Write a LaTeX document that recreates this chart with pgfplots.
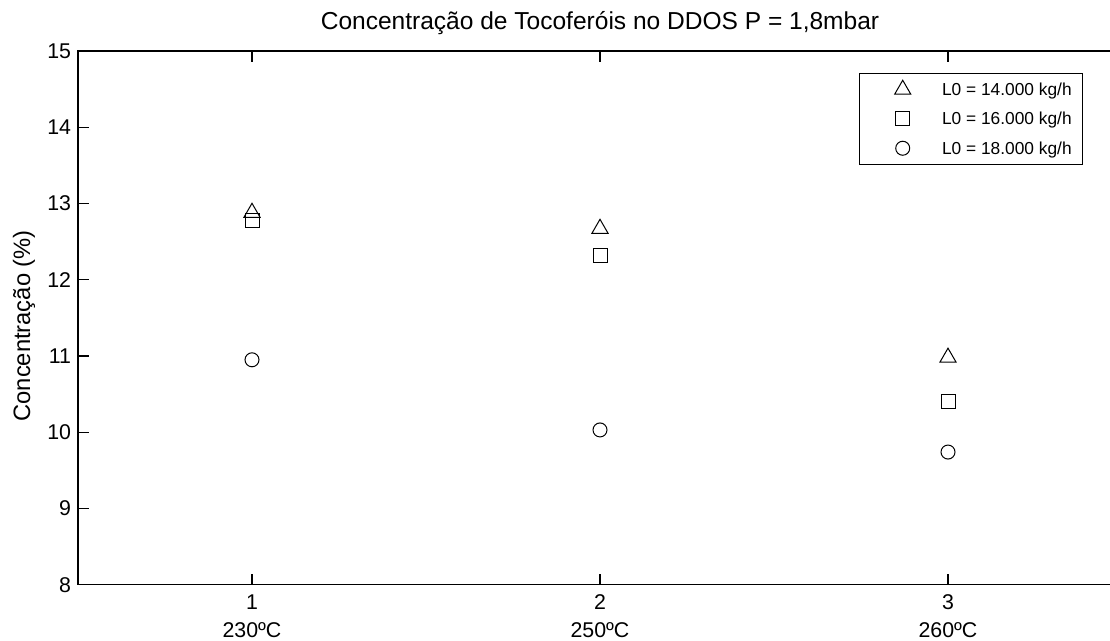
\documentclass[border=0pt]{standalone}
\usepackage{pgfplots}
\pgfplotsset{compat=1.18}
\usepackage{fontspec}
\setmainfont{Liberation Sans}
\begin{document}
\begin{tikzpicture}
\begin{axis}[
  scale only axis, width=783pt, height=400.3pt,
  xmin=0.5, xmax=3.5, ymin=8, ymax=15,
  xtick={1,2,3},
  xticklabels={{1\\230ºC},{2\\250ºC},{3\\260ºC}},
  ytick={8,9,10,11,12,13,14,15},
  /pgf/number format/assume math mode=true,
  tick align=inside, major tick length=8pt,
  axis line style={line width=0.9pt},
  every tick/.style={line width=0.9pt, black},
  xticklabel style={align=center, font=\fontsize{16}{21}\selectfont, anchor=north, inner sep=0pt, yshift=-7pt},
  yticklabel style={font=\fontsize{16}{19}\selectfont, anchor=east, inner sep=0pt, xshift=-5pt},
  title={Concentração de Tocoferóis no DDOS P = 1,8mbar},
  title style={font=\fontsize{18.4}{21}\selectfont, at={(0.5,1)}, anchor=base, yshift=10pt},
  ylabel={Concentração (\%)},
  ylabel style={font=\fontsize{17.8}{20}\selectfont, at={(rel axis cs:0,0.5)}, anchor=center, yshift=40.5pt, xshift=-6pt},
  legend image code/.code={\path[draw=none] (0pt,0pt) -- (54pt,0pt); \draw[#1] plot coordinates {(26.5pt,0pt)};},
  legend style={at={(0.9626,0.9588)}, anchor=north east, draw=black, line width=0.9pt,
    inner xsep=6pt, inner ysep=1pt, row sep=0pt,
    font=\fontsize{13}{15}\selectfont,
    nodes={text height=15.5pt, text depth=6.5pt, inner ysep=0pt}},
  legend cell align=left,
]
\addplot[only marks, mark=triangle, mark size=7pt, mark options={line width=0.75pt, fill=none}] coordinates {(1,12.88) (2,12.67) (3,10.98)};
\addlegendentry{L0 = 14.000 kg/h}
\addplot[only marks, mark=square, mark size=5.25pt, mark options={line width=0.75pt, fill=none}] coordinates {(1,12.78) (2,12.32) (3,10.40)};
\addlegendentry{L0 = 16.000 kg/h}
\addplot[only marks, mark=o, mark size=5.25pt, mark options={line width=0.75pt, fill=none}] coordinates {(1,10.95) (2,10.03) (3,9.74)};
\addlegendentry{L0 = 18.000 kg/h}
\end{axis}
\pgfresetboundingbox
\useasboundingbox ([xshift=-58.5pt,yshift=-41.5pt]current axis.south west) rectangle ([xshift=774pt,yshift=38.25pt]current axis.north west);
\end{tikzpicture}
\end{document}
